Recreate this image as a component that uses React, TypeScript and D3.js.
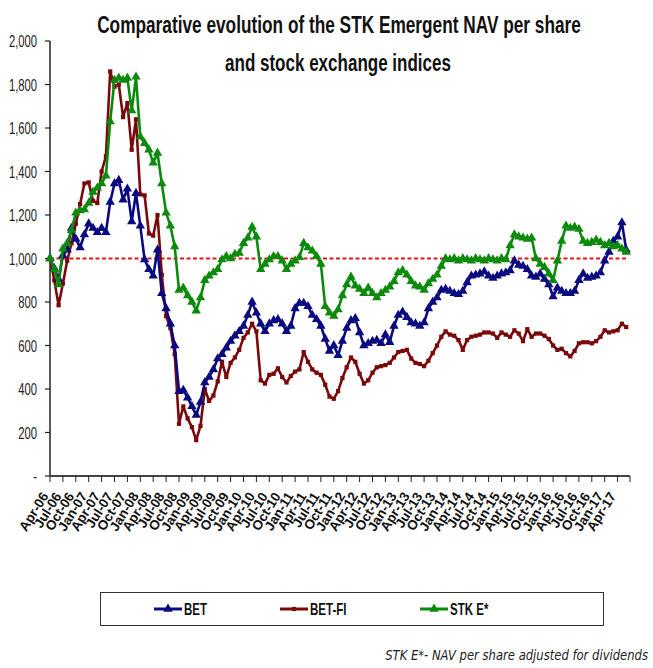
import React, { useEffect, useRef } from 'react';
import * as d3 from 'd3';

// monthly values, Apr-06 .. Jun-17
const betValues = [
  1000, 955, 905, 1015, 1040, 1140, 1090, 1050, 1110, 1160,
  1140, 1120, 1140, 1120, 1260, 1345, 1360, 1270, 1320, 1170,
  1300, 1150, 995, 950, 920, 1040, 840, 770, 700, 600,
  390, 395, 360, 320, 280, 340, 430, 455, 490, 540,
  560, 590, 620, 645, 665, 690, 740, 800, 750, 700,
  665, 700, 715, 720, 700, 665, 690, 770, 795, 795,
  780, 740, 720, 690, 630, 575, 600, 555, 620, 680,
  715, 725, 660, 600, 610, 620, 625, 610, 650, 615,
  690, 740, 755, 730, 705, 700, 690, 705, 770, 800,
  820, 855, 860, 850, 840, 835, 850, 890, 920, 925,
  930, 940, 920, 910, 920, 930, 935, 945, 990, 970,
  965, 950, 920, 915, 930, 905, 880, 825, 865, 850,
  840, 840, 850, 900, 930, 910, 915, 920, 935, 990,
  1030, 1080, 1100, 1165, 1040
];

const betFiValues = [
  1000, 900, 785, 885, 990, 1070, 1160, 1250, 1345, 1350,
  1265, 1255, 1400, 1470, 1860, 1790, 1800, 1650, 1715, 1500,
  1640, 1295, 1290, 1115, 1105, 1200, 925, 735, 680, 560,
  240, 320, 265, 225, 165, 230, 400, 345, 370, 435,
  525, 455, 520, 545, 580, 635, 660, 700, 665, 440,
  425, 465, 470, 495, 455, 430, 460, 480, 490, 570,
  525, 490, 475, 465, 420, 365, 355, 390, 450, 500,
  545, 525, 470, 425, 440, 475, 500, 505, 510, 520,
  545, 570, 575, 580, 540, 520, 515, 505, 530, 565,
  600, 640, 665, 650, 645, 625, 580, 625, 640, 645,
  650, 660, 660, 655, 635, 660, 650, 640, 670, 655,
  620, 675, 640, 655, 655, 645, 630, 600, 580, 585,
  565, 550, 575, 610, 615, 615, 610, 620, 640, 670,
  660, 665, 670, 700, 685
];

const stkValues = [
  1000, 950, 880, 1045, 1070, 1130, 1210, 1220, 1225, 1255,
  1305, 1325, 1345, 1380, 1630, 1820, 1830, 1820, 1830, 1680,
  1835, 1560, 1530, 1500, 1440, 1485, 1345, 1210, 1150, 1055,
  855, 865, 830, 800, 760, 820, 900, 920, 935, 950,
  995, 1010, 1000, 1020, 1025, 1070, 1095, 1145, 1100, 950,
  975, 995, 1010, 1010, 990, 950, 975, 990, 1005, 1070,
  1050, 1035, 1010, 975, 780, 750, 735, 765, 830, 880,
  915, 875, 860, 840, 865, 840, 820, 840, 855, 870,
  895, 935, 945, 925, 895, 875, 870, 855, 885, 905,
  925, 965, 1000, 995, 1000, 990, 1000, 995, 990, 1000,
  995, 990, 1000, 995, 990, 1000, 995, 1060, 1110, 1100,
  1095, 1090, 1095, 1000, 975, 960, 930, 900, 990, 1080,
  1150, 1140, 1145, 1135, 1080, 1070, 1075, 1085, 1075, 1060,
  1070, 1055, 1060, 1045, 1030
];

const quarterLabels = [
  'Apr-06', 'Jul-06', 'Oct-06', 'Jan-07', 'Apr-07', 'Jul-07', 'Oct-07', 'Jan-08',
  'Apr-08', 'Jul-08', 'Oct-08', 'Jan-09', 'Apr-09', 'Jul-09', 'Oct-09', 'Jan-10',
  'Apr-10', 'Jul-10', 'Oct-10', 'Jan-11', 'Apr-11', 'Jul-11', 'Oct-11', 'Jan-12',
  'Apr-12', 'Jul-12', 'Oct-12', 'Jan-13', 'Apr-13', 'Jul-13', 'Oct-13', 'Jan-14',
  'Apr-14', 'Jul-14', 'Oct-14', 'Jan-15', 'Apr-15', 'Jul-15', 'Oct-15', 'Jan-16',
  'Apr-16', 'Jul-16', 'Oct-16', 'Jan-17', 'Apr-17'
];

const yTicks = [0, 200, 400, 600, 800, 1000, 1200, 1400, 1600, 1800, 2000];

const seriesNames = ['BET', 'BET-FI', 'STK E*'];
const seriesColors = ['#0a0a80', '#7a0a0a', '#0c8a0c'];
const seriesMarkers = ['triangle', 'square', 'triangle'];

const sans = "'Liberation Sans', Arial, sans-serif";

// squeeze a text horizontally (narrow font look) around its anchor
const squeeze = (sel, x, y, k) => {
  sel.attr('x', 0).attr('y', 0)
    .attr('transform', `translate(${x},${y}) scale(${k},1)`);
};

const fitWidth = (sel, x, y, w) => {
  const len = sel.node().getComputedTextLength();
  squeeze(sel, x, y, len > 0 ? w / len : 1);
};

const App = () => {
  const svgRef = useRef(null);

  useEffect(() => {
    const width = 653;
    const height = 668;
    d3.select(svgRef.current).selectAll('*').remove();
    const svg = d3.select(svgRef.current)
      .attr('width', width)
      .attr('height', height);

    svg.append('rect').attr('width', width).attr('height', height).attr('fill', '#fff');

    // month index scale: 3 months between quarter ticks
    const x = d3.scaleLinear().domain([0, 132]).range([50, 617.6]);
    const y = d3.scaleLinear().domain([0, 2000]).range([476, 41]);

    // title
    const title = svg.append('g')
      .attr('font-family', sans)
      .attr('font-weight', 'bold')
      .attr('font-size', 24)
      .attr('fill', '#111')
      .attr('text-anchor', 'middle');
    fitWidth(title.append('text').text('Comparative evolution of the STK Emergent NAV per share'), 339, 33, 484);
    fitWidth(title.append('text').text('and stock exchange indices'), 338, 71, 226);

    // y axis
    const yAxis = svg.append('g');
    yAxis.append('line')
      .attr('x1', 50).attr('x2', 50)
      .attr('y1', y(2000)).attr('y2', y(0))
      .attr('stroke', '#222').attr('stroke-width', 1.5);
    yTicks.forEach(t => {
      yAxis.append('line')
        .attr('x1', 45).attr('x2', 50)
        .attr('y1', y(t)).attr('y2', y(t))
        .attr('stroke', '#222').attr('stroke-width', 1.2);
      const lab = yAxis.append('text')
        .attr('text-anchor', 'end')
        .attr('font-family', sans)
        .attr('font-size', 17)
        .attr('fill', '#222')
        .text(t === 0 ? '-' : d3.format(',')(t));
      squeeze(lab, 37, y(t) + 6, 0.66);
    });

    // x axis
    const xAxis = svg.append('g');
    xAxis.append('line')
      .attr('x1', 50).attr('x2', 630)
      .attr('y1', y(0)).attr('y2', y(0))
      .attr('stroke', '#444').attr('stroke-width', 2);
    quarterLabels.forEach((lab, q) => {
      const xi = x(q * 3);
      xAxis.append('line')
        .attr('x1', xi).attr('x2', xi)
        .attr('y1', y(0)).attr('y2', y(0) + 6)
        .attr('stroke', '#222').attr('stroke-width', 1);
      xAxis.append('text')
        .attr('transform', `translate(${xi - 1},${y(0) + 20}) rotate(-58)`)
        .attr('text-anchor', 'end')
        .attr('font-family', sans)
        .attr('font-weight', 'bold')
        .attr('font-size', 13.5)
        .attr('fill', '#111')
        .text(lab);
    });
    xAxis.append('line')
      .attr('x1', 630).attr('x2', 630)
      .attr('y1', y(0)).attr('y2', y(0) + 6)
      .attr('stroke', '#222').attr('stroke-width', 1);

    // reference line at 1000
    svg.append('line')
      .attr('x1', 50).attr('x2', 626)
      .attr('y1', y(1000)).attr('y2', y(1000))
      .attr('stroke', '#e01818')
      .attr('stroke-width', 2.2)
      .attr('stroke-dasharray', '4,2.5');

    const triangle = d3.symbol().type(d3.symbolTriangle).size(38);
    const square = d3.symbol().type(d3.symbolSquare).size(18);

    const allSeries = [betValues, betFiValues, stkValues];
    const line = d3.line<number>()
      .x((d, i) => x(i))
      .y(d => y(d));

    [1, 0, 2].forEach(s => {
      const vals = allSeries[s];
      const g = svg.append('g');
      g.append('path')
        .datum(vals)
        .attr('fill', 'none')
        .attr('stroke', seriesColors[s])
        .attr('stroke-width', 2.6)
        .attr('stroke-linejoin', 'round')
        .attr('d', line);
      g.selectAll('path.mk')
        .data(vals)
        .enter()
        .append('path')
        .attr('class', 'mk')
        .attr('transform', (d, i) => `translate(${x(i)},${y(d)})`)
        .attr('fill', seriesColors[s])
        .attr('d', seriesMarkers[s] === 'triangle' ? triangle : square);
    });

    // legend
    const legend = svg.append('g');
    legend.append('rect')
      .attr('x', 100.5).attr('y', 592.5)
      .attr('width', 503).attr('height', 33)
      .attr('fill', '#fff')
      .attr('stroke', '#333')
      .attr('stroke-width', 1);
    const legendX = [154, 280, 420];
    seriesNames.forEach((name, s) => {
      const lx = legendX[s];
      const row = legend.append('g').attr('transform', `translate(${lx},609)`);
      row.append('line')
        .attr('x1', 0).attr('x2', 28)
        .attr('stroke', seriesColors[s]).attr('stroke-width', 3);
      row.append('path')
        .attr('transform', 'translate(14,0)')
        .attr('fill', seriesColors[s])
        .attr('d', seriesMarkers[s] === 'triangle' ? triangle : square);
      const t = row.append('text')
        .attr('font-family', sans)
        .attr('font-weight', 'bold')
        .attr('font-size', 16)
        .attr('fill', '#111')
        .text(name);
      squeeze(t, 30, 6, 0.72);
    });

    // footnote
    const foot = svg.append('text')
      .attr('text-anchor', 'end')
      .attr('font-family', "'DejaVu Sans', Verdana, sans-serif")
      .attr('font-style', 'italic')
      .attr('font-size', 13.5)
      .attr('fill', '#222')
      .text('STK E*- NAV per share adjusted for dividends');
    fitWidth(foot, 648, 660, 263);
  }, []);

  return (
    <div style={{ position: 'absolute', left: 0, top: 0, width: 653, height: 668, overflow: 'hidden' }}>
      <svg ref={svgRef} style={{ display: 'block' }} />
    </div>
  );
};

export default App;
